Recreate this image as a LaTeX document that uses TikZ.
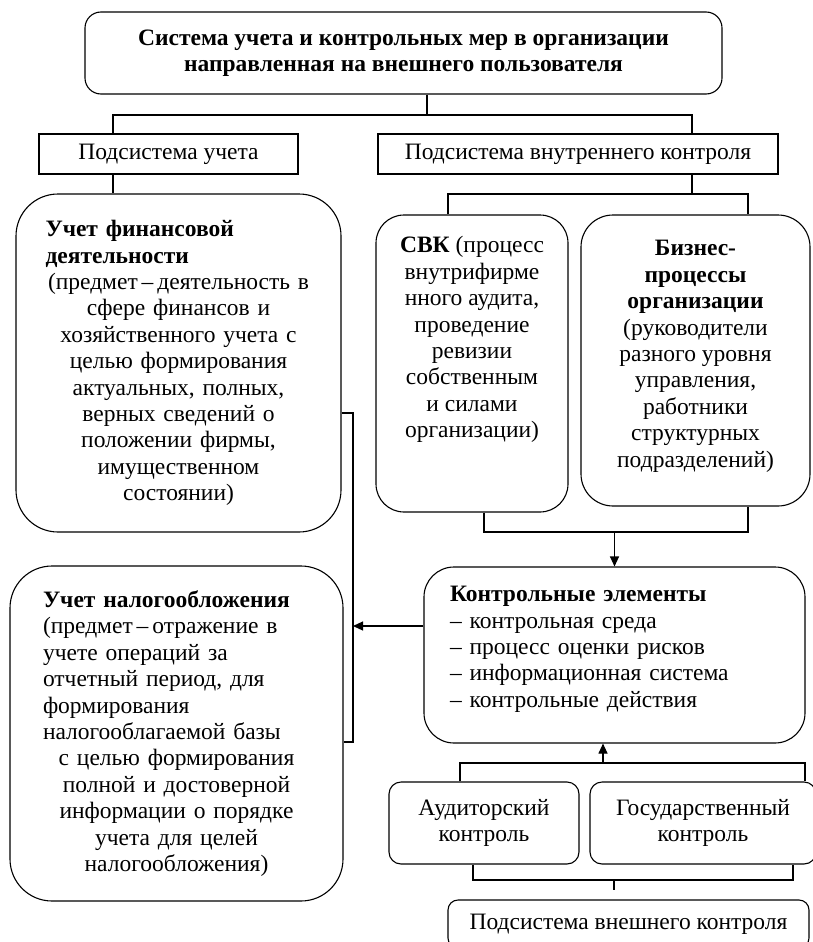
\documentclass[tikz,border=0pt]{standalone}
\usepackage{fontspec}
\setmainfont{Liberation Serif}
\usepackage{tikz}
\usetikzlibrary{positioning,arrows.meta}

\begin{document}
\begin{tikzpicture}[
      x=1pt, y=-1pt,
      font=\fontsize{23.5pt}{26.4pt}\selectfont,
      box/.style={draw, line width=1.1pt, align=center, inner sep=0pt},
      rbox/.style={box, rounded corners=#1},
      link/.style={line width=1.1pt},
      arrow/.style={-{Triangle[length=10pt,width=9pt]}, line width=1.1pt}
    ]
    \useasboundingbox (0,0) rectangle (812,942);

    \node[rbox=16pt, minimum width=637pt, minimum height=82pt] (top) at (403.5,53)
      {\textbf{Система учета и контрольных мер в организации}\\\textbf{направленная на внешнего пользователя}};
    \node[box, minimum width=259pt, minimum height=40pt] (sub1) at (168.5,154) {Подсистема учета};
    \node[box, minimum width=400pt, minimum height=40pt] (sub2) at (578,154) {Подсистема внутреннего контроля};

    \node[rbox=42pt, minimum width=325pt, minimum height=338pt, text width=266pt, align=left] (fin) at (178.5,363)
      {\textbf{Учет финансовой}\\\textbf{деятельности}\par
       \centering (предмет\thinspace–\thinspace деятельность в\\сфере финансов и\\хозяйственного учета с\\целью формирования\\
       актуальных, полных,\\верных сведений о\\положении фирмы,\\имущественном\\состоянии)\par};
    \node[rbox=28pt, minimum width=192pt, minimum height=297pt] (svk) at (472,363.5)
      {\textbf{СВК} (процесс\\внутрифирме\\нного аудита,\\проведение\\ревизии\\собственным\\и силами\\организации)\\
       \mbox{}\\\mbox{}};
    \node[rbox=32pt, minimum width=229pt, minimum height=291pt] (biz) at (695.5,360.5)
      {\textbf{Бизнес-}\\\textbf{процессы}\\\textbf{организации}\\(руководители\\разного уровня\\управления,\\
       работники\\структурных\\подразделений)\\[-13pt]\mbox{}};

    \node[rbox=30pt, minimum width=381pt, minimum height=176pt, text width=329pt, align=left] (ctrl) at (614.5,655)
      {\textbf{Контрольные элементы}\\– контрольная среда\\– процесс оценки рисков\\– информационная система\\– контрольные действия\\[-10pt]\mbox{}};
    \node[rbox=42pt, minimum width=333pt, minimum height=335pt, text width=267pt, align=left] (tax) at (176.5,733.5)
      {\textbf{Учет налогообложения}\\(предмет\thinspace–\thinspace отражение в\\учете операций за\\отчетный период, для\\
       формирования\\налогооблагаемой базы\par
       \centering с целью формирования\\полной и достоверной\\информации о порядке\\учета для целей\\налогообложения)\par};

    \node[rbox=12pt, minimum width=190pt, minimum height=82pt] (audit) at (484,823) {Аудиторский\\контроль};
    \node[rbox=12pt, minimum width=226pt, minimum height=82pt] (gos) at (703,823) {Государственный\\контроль};
    \node[rbox=10pt, minimum width=361pt, minimum height=48pt] (ext) at (628.5,924) {Подсистема внешнего контроля};

    \coordinate (jt) at (427,115);
    \coordinate (t1) at (113,115);
    \coordinate (t2) at (692,115);
    \coordinate (s1) at (448,194);
    \coordinate (s2) at (748,194);
    \coordinate (b1) at (484,532);
    \coordinate (b2) at (748,532);
    \coordinate (r1) at (353,413);
    \coordinate (r2) at (353,742);
    \coordinate (a1) at (353,626);
    \coordinate (u0) at (603,763);
    \coordinate (u1) at (460,763);
    \coordinate (u2) at (805,763);
    \coordinate (l0) at (614,880);
    \coordinate (l1) at (473,880);
    \coordinate (l2) at (793,880);

    \draw[link] (top.south -| jt) -- (jt);
    \draw[link] (sub1.north -| t1) |- (t2) -- (sub2.north -| t2);
    \draw[link] (sub1.south -| t1) -- (fin.north -| t1);
    \draw[link] (sub2.south -| t2) -- (s1 -| t2);
    \draw[link] (svk.north -| s1) |- (s2) -- (biz.north -| s2);
    \draw[link] (svk.south -| b1) |- (b2) -- (biz.south -| b2);
    \draw[arrow] (b1 -| ctrl.north) -- (ctrl.north);
    \draw[link] (fin.east |- r1) -- (r1) -- (r2) -- (tax.east |- r2);
    \draw[arrow] (ctrl.west |- a1) -- (a1);
    \draw[link] (audit.north -| u1) |- (u2) -- (gos.north -| u2);
    \draw[arrow] (u0) -- (ctrl.south -| u0);
    \draw[link] (audit.south -| l1) |- (l2) -- (gos.south -| l2);
    \draw[link, shorten >=9pt] (l0) -- (l0 |- ext.north);
\end{tikzpicture}
\end{document}
